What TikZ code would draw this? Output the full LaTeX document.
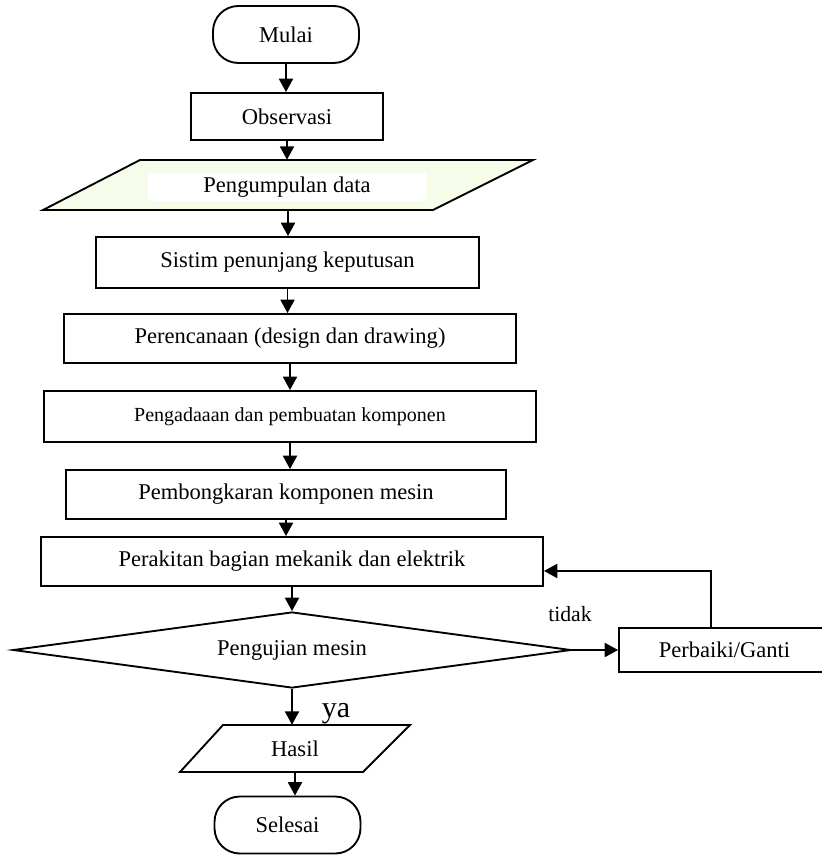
\documentclass[tikz,border=0pt]{standalone}
\usepackage{fontspec}
\setmainfont{Liberation Serif}
\usetikzlibrary{shapes.geometric,arrows.meta}
\definecolor{datagreen}{RGB}{246,252,234}
\begin{document}
\begin{tikzpicture}[x=0.75pt,y=-0.75pt,
  boxstyle/.style={rectangle,draw,line width=1.4pt,inner sep=0pt,font=\fontsize{16.9}{20}\selectfont},
  endstyle/.style={boxstyle,rounded corners=19pt,minimum width=109.5pt,minimum height=42.75pt},
  framestyle/.style={rectangle,inner sep=0pt,font=\fontsize{16.9}{20}\selectfont},
  decstyle/.style={diamond,draw,line width=1.4pt,inner sep=0pt,aspect=7.3,minimum width=418.5pt,minimum height=57pt,font=\fontsize{16.9}{20}\selectfont},
  arrowstyle/.style={line width=1.4pt,-{Triangle[length=10pt,width=10.5pt]}}]
  \useasboundingbox (0,0) rectangle (821,855);

  \node [endstyle] (start) at (286,34.5) {Mulai};
  \node [boxstyle,minimum width=144pt,minimum height=35.25pt] (obs) at (287,116.5) {Observasi};
  % data input
  \node [framestyle,minimum width=367.5pt,minimum height=37.5pt] (data) at (288,185) {};
  \filldraw [fill=datagreen,line width=1.4pt] (43,210) -- (433,210) -- (533,160) -- (140,160) -- cycle;
  \node [framestyle,fill=white,minimum width=208.5pt,minimum height=21pt] (datatext) at (287,187) {Pengumpulan data};
  \node [boxstyle,minimum width=287.25pt,minimum height=38.25pt] (dss) at (287.5,262.5) {Sistim penunjang keputusan};
  \node [boxstyle,minimum width=339pt,minimum height=36.75pt] (plan) at (290,338.5) {Perencanaan (design dan drawing)};
  \node [boxstyle,minimum width=369pt,minimum height=38.25pt,font=\fontsize{15}{18}\selectfont] (make) at (290,416.5) {Pengadaaan dan pembuatan komponen};
  \node [boxstyle,minimum width=330pt,minimum height=36.75pt] (dismantle) at (286,494.5) {Pembongkaran komponen mesin};
  \node [boxstyle,minimum width=376.5pt,minimum height=36.75pt] (assembly) at (292,561.5) {Perakitan bagian mekanik dan elektrik};
  \node [decstyle] (test) at (292,650) {Pengujian mesin};
  \node [boxstyle,minimum width=158.25pt,minimum height=33pt] (fix) at (724.5,650) {Perbaiki/Ganti};
  % output
  \draw [line width=1.4pt] (180,772) -- (363,772) -- (410,725) -- (223,725) -- cycle;
  \node [framestyle,minimum width=172.5pt,minimum height=35.25pt] (result) at (295,748.5) {Hasil};
  \node [endstyle] (stop) at (287.5,825) {Selesai};

  \node [font=\fontsize{16.3}{20}\selectfont] (no) at (570,614) {tidak};
  \node [anchor=base,font=\fontsize{22.5}{26}\selectfont] (yes) at (336,717) {ya};

  \foreach \a/\b in {start/obs,obs/data,data/dss,dss/plan,plan/make,make/dismantle,dismantle/assembly,assembly/test,test/result,result/stop}
    \draw [arrowstyle] (\a.south) -- (\a.south |- \b.north);
  \draw [arrowstyle] (test.east) -- (fix.west);
  \draw [arrowstyle] ([xshift=-10.1pt]fix.north) |- ([yshift=-7.1pt]assembly.east);
\end{tikzpicture}
\end{document}
